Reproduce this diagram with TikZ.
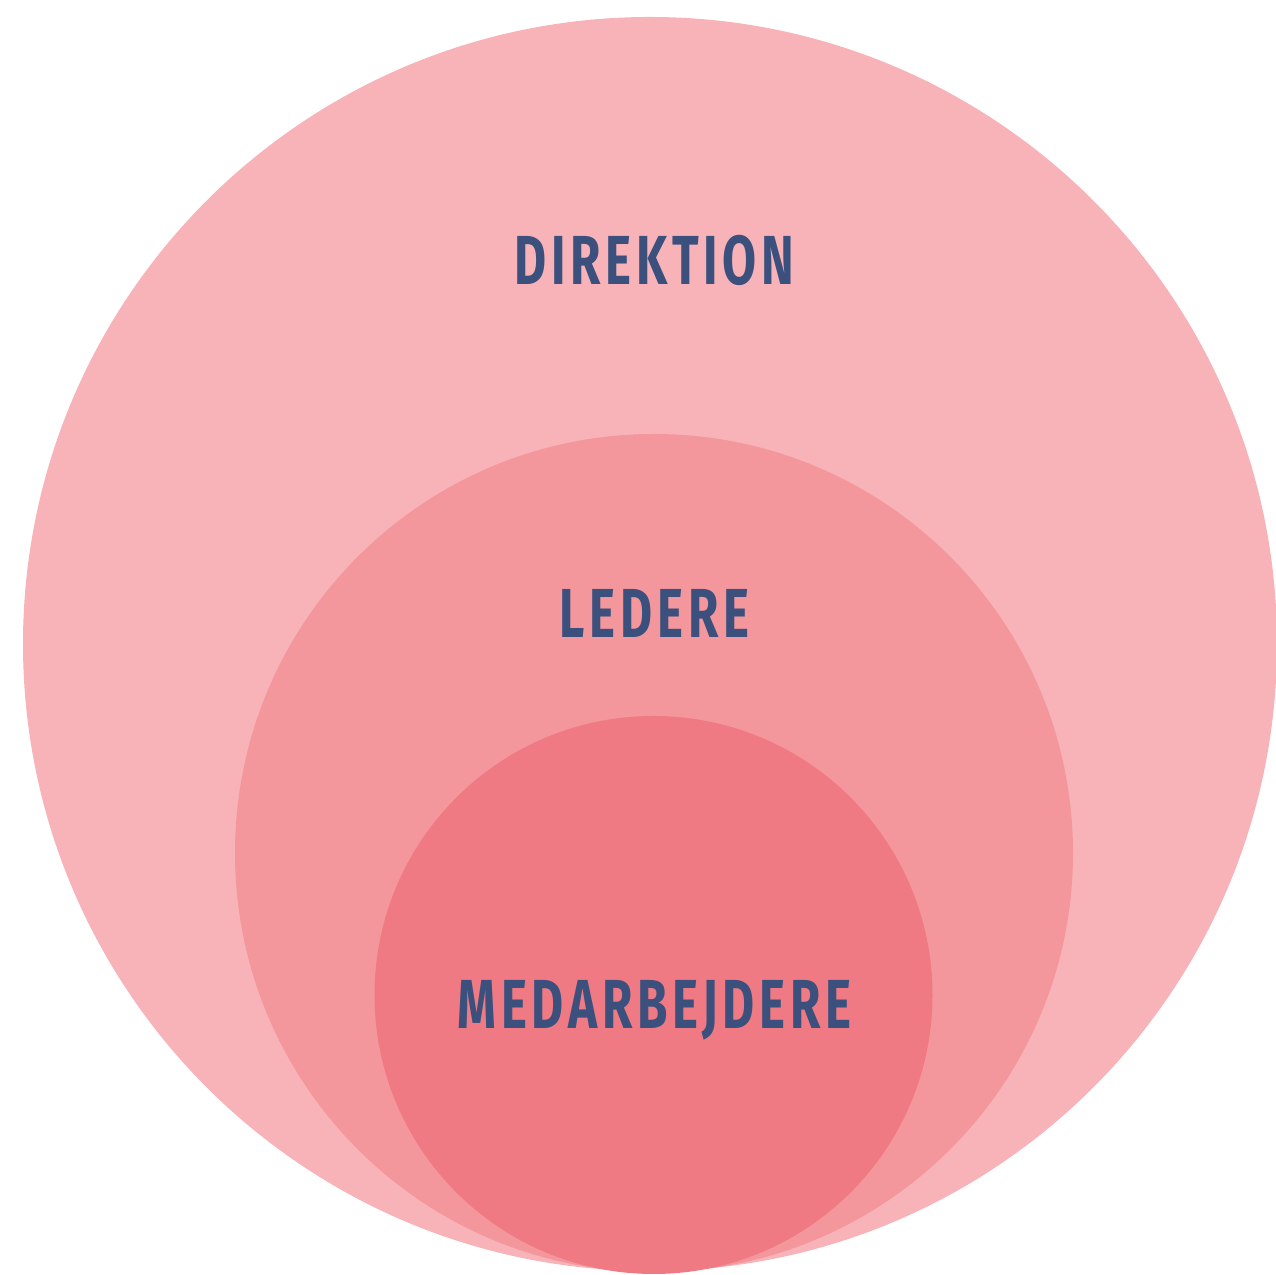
\documentclass[tikz,border=0pt]{standalone}
\usepackage{fontspec}
\usepackage{xcolor}
\newfontfamily\tierfont[FakeStretch=0.71,LetterSpace=6.8]{Fira Sans}
\definecolor{outerpink}{HTML}{F8B3B8}
\definecolor{midpink}{HTML}{F4979C}
\definecolor{innerpink}{HTML}{F07A83}
\definecolor{tierblue}{HTML}{3B507D}
\tikzset{tier/.style={inner sep=0pt,text=tierblue,font=\tierfont\bfseries\fontsize{39.5}{40}\selectfont}}

\begin{document}
\begin{tikzpicture}[x=0.2mm,y=0.2mm]
  \useasboundingbox (0,0) rectangle (1276,1275);
  % circles, largest first
  \fill[outerpink] (650,631) circle (627);
  \fill[midpink] (654,422) circle (419);
  \fill[innerpink] (653.5,280) circle (279);
  % labels
  \node[tier] (dir) at (654.5,1015) {DIREKTION};
  \node[tier] (led) at (654.5,662) {LEDERE};
  \node[tier] (med) at (654.5,265) {MEDARBEJDERE};
\end{tikzpicture}
\end{document}
